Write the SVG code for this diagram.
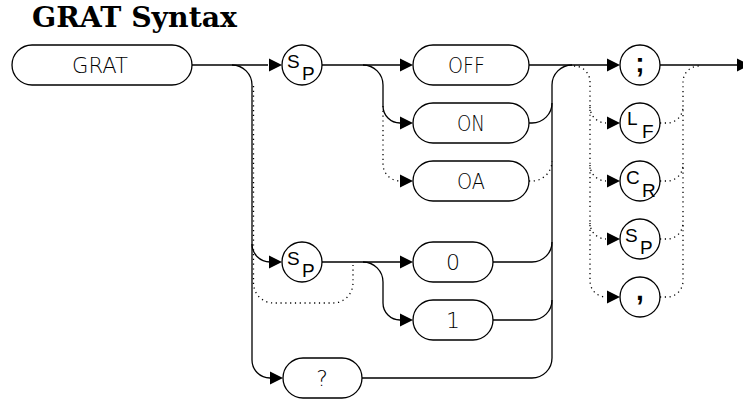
<svg xmlns="http://www.w3.org/2000/svg" width="743" height="399" viewBox="0 0 743 399">
<defs>
<style>
.ln{fill:none;stroke:#000;stroke-width:1.3}
.dt{fill:none;stroke:#000;stroke-width:1.3;stroke-dasharray:1.2 3.6}
.bx{fill:#fff;stroke:#000;stroke-width:1.3}
.tx{font-family:"DejaVu Sans","Liberation Sans",sans-serif;font-weight:200;font-size:22px;fill:#000}
.sm{font-family:"Liberation Sans",Arial,sans-serif;font-size:19px;fill:#000}
.pn{font-family:"Liberation Sans",Arial,sans-serif;font-size:28px;font-weight:bold;fill:#000}
.ttl{font-family:"DejaVu Serif","Liberation Serif",serif;font-size:28px;font-weight:bold;fill:#000}
.ah{fill:#000}
</style>
<path id="arw" d="M0,-6.5 L13,0 L0,6.5 Z"/>
</defs>
<rect width="743" height="399" fill="#fff"/>
<text class="ttl" x="32" y="27" textLength="205" lengthAdjust="spacingAndGlyphs">GRAT Syntax</text>

<g id="connectors">
<path class="ln" d="M192,65 H268"/>
<path class="ln" d="M232,65 A20,20 0 0 1 252,85 V360 A18,18 0 0 0 270,378"/>
<path class="ln" d="M252,244 A18,18 0 0 0 270,262"/>
<path class="dt" d="M253.5,86 V283 A20,20 0 0 0 273.5,303 H333 A20,20 0 0 0 353,283 V265"/>
<path class="ln" d="M322,65 H400"/>
<path class="ln" d="M363,65 A20,20 0 0 1 383,85 V106 A17,17 0 0 0 400,123"/>
<path class="dt" d="M383,106 V164 A17,17 0 0 0 400,181"/>
<path class="ln" d="M322,262 H400"/>
<path class="ln" d="M363,262 A20,20 0 0 1 383,282 V303 A17,17 0 0 0 400,320"/>
<path class="ln" d="M362,378 H532 A20,20 0 0 0 552,358 V85 A20,20 0 0 1 572,65"/>
<path class="ln" d="M529,65 H607"/>
<path class="ln" d="M529,123 H532 A20,20 0 0 0 552,103"/>
<path class="dt" d="M529,181 H532 A20,20 0 0 0 552,161"/>
<path class="ln" d="M493,262 H532 A20,20 0 0 0 552,242"/>
<path class="ln" d="M493,320 H532 A20,20 0 0 0 552,300"/>
<path class="dt" d="M574,66 A16,16 0 0 1 590,82 V281 A16,16 0 0 0 606,297"/>
<path class="dt" d="M590,107 A16,16 0 0 0 606,123"/>
<path class="dt" d="M590,165 A16,16 0 0 0 606,181"/>
<path class="dt" d="M590,223 A16,16 0 0 0 606,239"/>
<path class="dt" d="M660,297 H667 A16,16 0 0 0 683,281 V82 A16,16 0 0 1 699,66"/>
<path class="dt" d="M660,123 H667 A16,16 0 0 0 683,107"/>
<path class="dt" d="M660,181 H667 A16,16 0 0 0 683,165"/>
<path class="dt" d="M660,239 H667 A16,16 0 0 0 683,223"/>
<path class="ln" d="M660,65 H737"/>
<use href="#arw" class="ah" x="269" y="65"/>
<use href="#arw" class="ah" x="269" y="262"/>
<use href="#arw" class="ah" x="270" y="378"/>
<use href="#arw" class="ah" x="400" y="65"/>
<use href="#arw" class="ah" x="400" y="123"/>
<use href="#arw" class="ah" x="400" y="181"/>
<use href="#arw" class="ah" x="400" y="262"/>
<use href="#arw" class="ah" x="400" y="320"/>
<use href="#arw" class="ah" x="607" y="65"/>
<use href="#arw" class="ah" x="607" y="123"/>
<use href="#arw" class="ah" x="607" y="181"/>
<use href="#arw" class="ah" x="607" y="239"/>
<use href="#arw" class="ah" x="607" y="297"/>
<use href="#arw" class="ah" x="737" y="65"/>
</g>

<g id="node-grat"><rect class="bx" x="12" y="45" width="180" height="40" rx="20"/><text class="tx" x="72" y="73" textLength="56" lengthAdjust="spacingAndGlyphs">GRAT</text></g>
<g id="node-sp1"><circle class="bx" cx="302" cy="65" r="20"/><text class="sm" x="287" y="68">S</text><text class="sm" x="302" y="80">P</text></g>
<g id="node-off"><rect class="bx" x="413" y="45" width="116" height="40" rx="20"/><text class="tx" x="448" y="73" textLength="37" lengthAdjust="spacingAndGlyphs">OFF</text></g>
<g id="node-on"><rect class="bx" x="413" y="103" width="116" height="40" rx="20"/><text class="tx" x="457" y="131" textLength="28" lengthAdjust="spacingAndGlyphs">ON</text></g>
<g id="node-oa"><rect class="bx" x="413" y="161" width="116" height="40" rx="20"/><text class="tx" x="457" y="189" textLength="28" lengthAdjust="spacingAndGlyphs">OA</text></g>
<g id="node-sp2"><circle class="bx" cx="302" cy="262" r="20"/><text class="sm" x="287" y="265">S</text><text class="sm" x="302" y="277">P</text></g>
<g id="node-0"><rect class="bx" x="413" y="242" width="80" height="40" rx="20"/><text class="tx" x="453" y="270" text-anchor="middle">0</text></g>
<g id="node-1"><rect class="bx" x="413" y="300" width="80" height="40" rx="20"/><text class="tx" x="453" y="328" text-anchor="middle">1</text></g>
<g id="node-q"><rect class="bx" x="283" y="358" width="79" height="40" rx="20"/><text class="tx" x="322" y="386" text-anchor="middle">?</text></g>
<g id="node-semi"><circle class="bx" cx="640" cy="65" r="20"/><text class="pn" x="640" y="72" text-anchor="middle">;</text></g>
<g id="node-lf"><circle class="bx" cx="640" cy="123" r="20"/><text class="sm" x="627" y="125">L</text><text class="sm" x="642" y="138">F</text></g>
<g id="node-cr"><circle class="bx" cx="640" cy="181" r="20"/><text class="sm" x="626" y="184">C</text><text class="sm" x="642" y="197">R</text></g>
<g id="node-sp3"><circle class="bx" cx="640" cy="239" r="20"/><text class="sm" x="625" y="242">S</text><text class="sm" x="640" y="254">P</text></g>
<g id="node-comma"><circle class="bx" cx="640" cy="297" r="20"/><text class="pn" x="640" y="300" text-anchor="middle">,</text></g>
</svg>
